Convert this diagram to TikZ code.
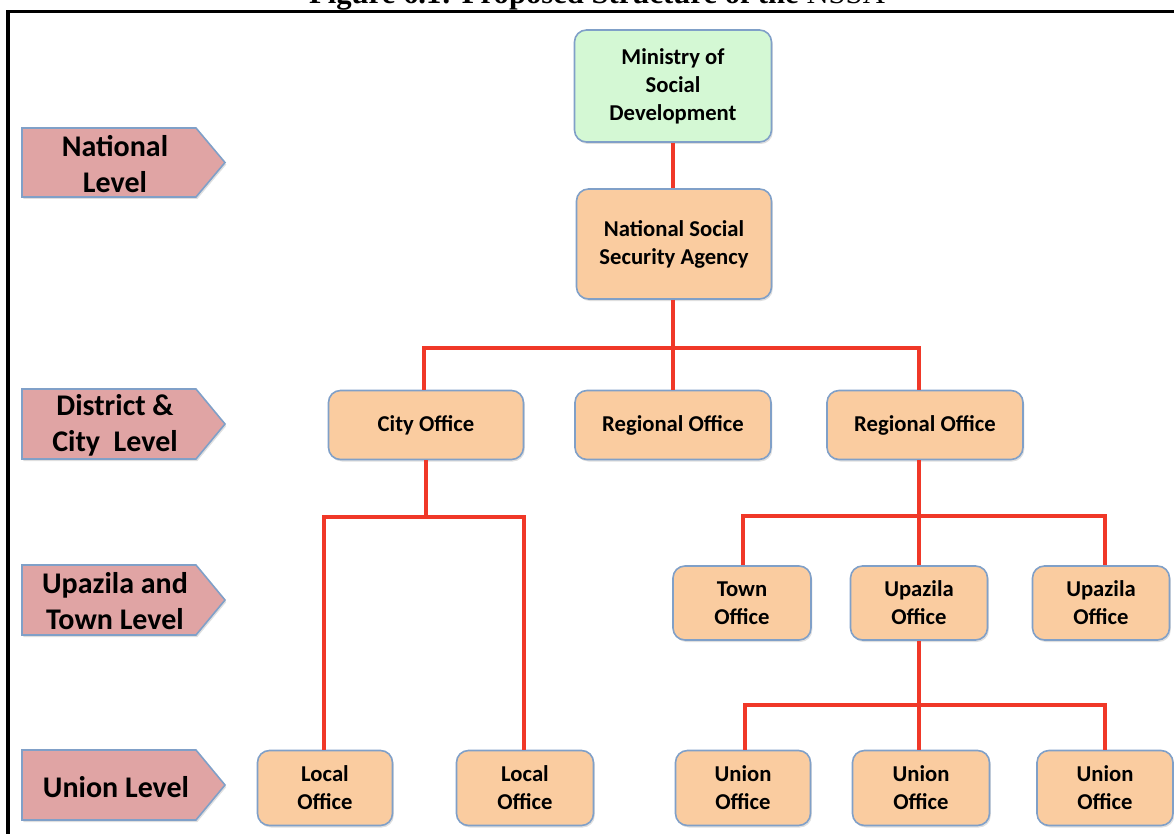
\documentclass[tikz,border=0pt]{standalone}
\usepackage{fontspec}
\setmainfont{Carlito}
\newfontfamily\titlefont{Liberation Serif}
\usetikzlibrary{shadows}
\definecolor{boxfill}{RGB}{250,204,160}
\definecolor{greenfill}{RGB}{212,248,212}
\definecolor{boxedge}{RGB}{128,160,200}
\definecolor{lvlfill}{RGB}{224,164,164}
\definecolor{linkred}{RGB}{240,56,40}
\tikzset{
  office/.style={draw=boxedge, line width=1.2pt, fill=boxfill, rounded corners=9pt,
    align=center, inner sep=0pt, font=\bfseries\fontsize{17}{21}\selectfont,
    drop shadow={shadow xshift=1pt, shadow yshift=-1.5pt, opacity=0.25}},
  lvl/.style={draw=boxedge, line width=1.2pt, fill=lvlfill,
    drop shadow={shadow xshift=1pt, shadow yshift=-1.5pt, opacity=0.25}},
  lvltext/.style={align=center, font=\bfseries\fontsize{22.5}{27}\selectfont, inner sep=0pt},
  link/.style={draw=linkred, line width=2.6pt}
}
\begin{document}
\begin{tikzpicture}[x=0.75pt,y=-0.75pt]
\useasboundingbox (0,0) rectangle (1174,834);
% title (cut off at the top, as in the reference)
\node[anchor=base, inner sep=0pt, font=\titlefont\fontsize{23}{26}\selectfont] (title) at (597,4) {\textbf{Figure 6.1: Proposed Structure of the} NSSA};
% frame
\draw[line width=2.6pt] (8,900) -- (8,11.5) -- (1180,11.5);

% level arrows
\foreach \yt/\yb in {128/197, 389/459, 565/635, 750/820}{
  \draw[lvl] (22,\yt) -- (196,\yt) -- (225,{(\yt+\yb)/2}) -- (196,\yb) -- (22,\yb) -- cycle;
}
\node[lvltext] (lnat) at (115,164) {National\\Level};
\node[lvltext] (ldist) at (115,425) {District \&\\City~~Level};
\node[lvltext] (lupa) at (115,601) {Upazila and\\Town Level};
\node[lvltext] (luni) at (116,787) {Union Level};

% offices
\node[office, fill=greenfill, minimum width=197*0.75pt, minimum height=112*0.75pt] (min) at (673,86) {Ministry of\\Social\\Development};
\node[office, minimum width=195*0.75pt, minimum height=110*0.75pt] (nssa) at (674,244) {National Social\\Security Agency};
\node[office, minimum width=195*0.75pt, minimum height=69*0.75pt] (city) at (426,425) {City Office};
\node[office, minimum width=196*0.75pt, minimum height=69*0.75pt] (reg1) at (673,425) {Regional Office};
\node[office, minimum width=196*0.75pt, minimum height=69*0.75pt] (reg2) at (925,425) {Regional Office};
\node[office, minimum width=138*0.75pt, minimum height=74*0.75pt] (town) at (742,603) {Town\\Office};
\node[office, minimum width=137*0.75pt, minimum height=74*0.75pt] (upa1) at (919,603) {Upazila\\Office};
\node[office, minimum width=137*0.75pt, minimum height=74*0.75pt] (upa2) at (1101,603) {Upazila\\Office};
\node[office, minimum width=135*0.75pt, minimum height=75*0.75pt] (loc1) at (325,788) {Local\\Office};
\node[office, minimum width=137*0.75pt, minimum height=75*0.75pt] (loc2) at (525,788) {Local\\Office};
\node[office, minimum width=135*0.75pt, minimum height=75*0.75pt] (uni1) at (743,788) {Union\\Office};
\node[office, minimum width=137*0.75pt, minimum height=75*0.75pt] (uni2) at (921,788) {Union\\Office};
\node[office, minimum width=136*0.75pt, minimum height=75*0.75pt] (uni3) at (1105,788) {Union\\Office};

% connectors
\draw[link] (min.south) -- (nssa.north -| min.south);
\coordinate (j1) at (673,348);
\draw[link] (nssa.south -| j1) -- (j1);
\draw[link] (city.north -| 424,0) |- (j1) -| (reg2.north -| 919,0);
\draw[link] (j1) -- (reg1.north -| j1);
\coordinate (j2) at (426,517);
\draw[link] (city.south) -- (j2);
\draw[link] (loc1.north -| 324,0) |- (j2) -| (loc2.north -| 524,0);
\coordinate (j3) at (919,516);
\draw[link] (reg2.south -| j3) -- (j3);
\draw[link] (town.north -| 743,0) |- (j3) -| (upa2.north -| 1105,0);
\draw[link] (j3) -- (upa1.north -| j3);
\coordinate (j4) at (919,705);
\draw[link] (upa1.south -| j4) -- (j4);
\draw[link] (uni1.north -| 745,0) |- (j4) -| (uni3.north -| 1105,0);
\draw[link] (j4) -- (uni2.north -| j4);
\end{tikzpicture}
\end{document}
